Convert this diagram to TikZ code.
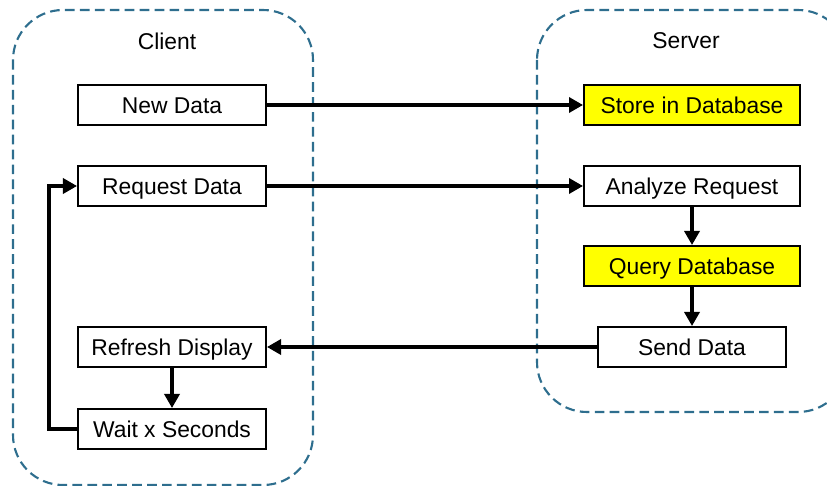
\documentclass[tikz,border=0pt]{standalone}
\usepackage{fontspec}
\setmainfont{Liberation Sans}
\usepackage{tikz}
\usetikzlibrary{arrows.meta}
\usetikzlibrary{positioning}

\definecolor{groupBlue}{RGB}{46,110,142}
\definecolor{dbYellow}{RGB}{255,255,0}

\begin{document}
\begin{tikzpicture}[
    x=0.02cm, y=-0.02cm,
    flowBox/.style={
        rectangle, draw, line width=1.1pt,
        minimum width=3.76cm,
        minimum height=0.8cm,
        text height=10pt, text depth=0pt,
        font=\fontsize{13}{15}\selectfont,
        align=center
    },
    serverBox/.style={flowBox, minimum width=4.32cm},
    dbBox/.style={serverBox, fill=dbYellow},
    groupBox/.style={
        draw=groupBlue, line width=1.2pt,
        dash pattern=on 5.5pt off 3pt,
        rounded corners=1cm
    },
    groupLabel/.style={font=\fontsize{13}{15}\selectfont},
    flowArrow/.style={
        line width=2.3pt,
        -{Triangle[length=8pt, width=8.5pt]}
    }
]
\useasboundingbox (0,0) rectangle (827,486);

% containers
\draw[groupBox] (13,10) rectangle (313,485);
\draw[groupBox] (537,10) rectangle (848,412);
\node[groupLabel] (clientLabel) at (167,41) {Client};
\node[groupLabel] (serverLabel) at (686,41) {Server};

% client side
\node[flowBox] (newData) at (172,105) {New Data};
\node[flowBox] (request) at (172,186) {Request Data};
\node[flowBox] (refresh) at (172,347) {Refresh Display};
\node[flowBox] (wait) at (172,429) {Wait x Seconds};

% server side
\node[dbBox] (store) at (692,105) {Store in Database};
\node[serverBox] (analyze) at (692,186) {Analyze Request};
\node[dbBox] (query) at (692,266) {Query Database};
\node[flowBox] (send) at (692,347) {Send Data};

\draw[flowArrow] (newData) -- (store);
\draw[flowArrow] (request) -- (analyze);
\draw[flowArrow] (analyze) -- (query);
\draw[flowArrow] (query) -- (send);
\draw[flowArrow] (send) -- (refresh);
\draw[flowArrow] (refresh) -- (wait);
\draw[flowArrow] (wait.west) -- ++(-28,0) |- (request.west);
\end{tikzpicture}
\end{document}
